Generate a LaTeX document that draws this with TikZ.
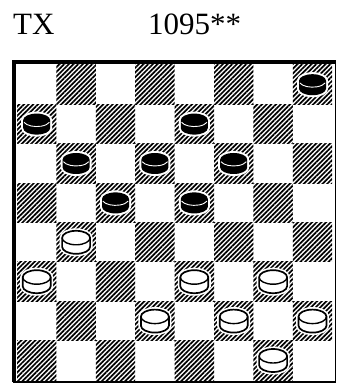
\documentclass[tikz,border=0pt]{standalone}
\usepackage{fontspec}
\setmainfont{Liberation Serif}
\usetikzlibrary{patterns.meta}

\def\fieldsize{39.4}

\begin{document}
\begin{tikzpicture}[
    x=1pt, y=1pt,
    darkfield/.style={pattern={Lines[angle=45, distance=3.3pt, line width=1.7pt]}},
    headline/.style={anchor=base west, inner sep=0pt, font=\fontsize{31}{31}\selectfont},
    blackpiece/.pic={
      \path[fill=white, draw=white, line width=4pt] (-13.5,4) -- (-13.5,-4)
        arc[start angle=180, end angle=360, x radius=13.5, y radius=6.5] -- (13.5,4)
        arc[start angle=0, end angle=180, x radius=13.5, y radius=6.5] -- cycle;
      \fill[black] (-13.5,4) -- (-13.5,-4)
        arc[start angle=180, end angle=360, x radius=13.5, y radius=6.5] -- (13.5,4)
        arc[start angle=0, end angle=180, x radius=13.5, y radius=6.5] -- cycle;
      \draw[white, line width=0.9pt] (-12.7,1.8)
        arc[start angle=200, end angle=340, x radius=13.5, y radius=6.5];
    },
    whitepiece/.pic={
      \path[fill=white, draw=white, line width=5pt] (-14,4.5) -- (-14,-4.5)
        arc[start angle=180, end angle=360, x radius=14, y radius=7] -- (14,4.5)
        arc[start angle=0, end angle=180, x radius=14, y radius=7] -- cycle;
      \draw[fill=white, line width=1.7pt] (-14,4.5) -- (-14,-4.5)
        arc[start angle=180, end angle=360, x radius=14, y radius=7] -- (14,4.5)
        arc[start angle=0, end angle=180, x radius=14, y radius=7] -- cycle;
      \draw[line width=1.4pt] (-14,4.5)
        arc[start angle=180, end angle=360, x radius=14, y radius=7];
    }
  ]
  \useasboundingbox (0,0) rectangle (339,385);

  % Kopfzeile
  \node[headline] (tx) at (13,350) {TX};
  \node[headline] (nr) at (148,350) {1095**};

  % Felder
  \foreach \c in {0,...,7}
    \foreach \r in {0,...,7}{
      \pgfmathparse{int(mod(\c+\r,2))}
      \ifnum\pgfmathresult=1
        \path[darkfield] ({17+\c*\fieldsize},{320-\r*\fieldsize}) rectangle ++(\fieldsize,-\fieldsize);
      \fi
    }

  % Rahmen
  \draw[line width=1.2pt] (14,323) rectangle (335.5,3);
  \draw[line width=3.5pt] (14,3) -- (14,323) -- (335.5,323);

  % schwarze Steine
  \foreach \c/\r in {7/0, 0/1, 4/1, 1/2, 3/2, 5/2, 2/3, 4/3}
    \pic at ({17+(\c+0.5)*\fieldsize},{320-(\r+0.5)*\fieldsize}) {blackpiece};

  % weisse Steine
  \foreach \c/\r in {1/4, 0/5, 4/5, 6/5, 3/6, 5/6, 7/6, 6/7}
    \pic at ({17+(\c+0.5)*\fieldsize},{320-(\r+0.5)*\fieldsize}) {whitepiece};
\end{tikzpicture}
\end{document}
